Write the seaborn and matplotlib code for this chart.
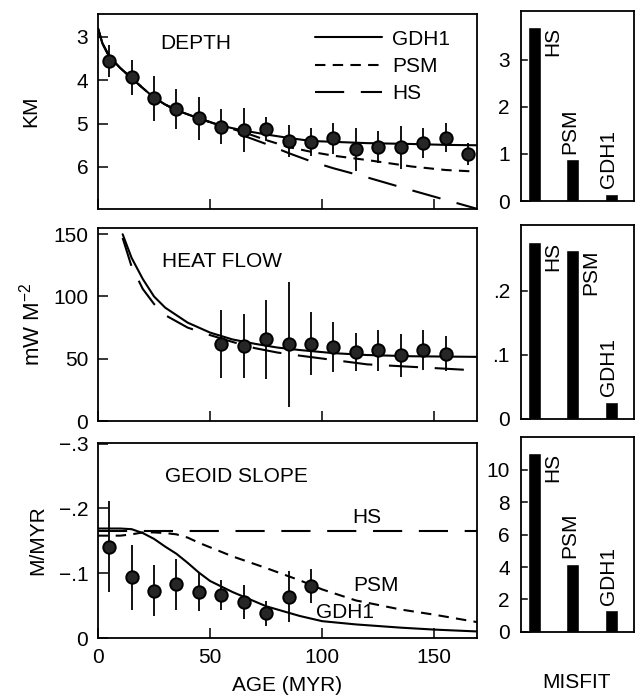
import matplotlib

matplotlib.use("Agg")
import matplotlib.pyplot as plt
from matplotlib.lines import Line2D
import seaborn as sns

# --- observed depth (km), binned by age ---
depth_age = [5, 15, 25, 35, 45, 55, 65, 75, 85, 95, 105, 115, 125, 135, 145, 155, 165]
depth_obs = [3.55, 3.93, 4.42, 4.66, 4.88, 5.07, 5.15, 5.12, 5.40, 5.42, 5.34,
             5.59, 5.53, 5.55, 5.44, 5.32, 5.70]
depth_err = [0.37, 0.40, 0.52, 0.46, 0.50, 0.40, 0.50, 0.27, 0.36, 0.33, 0.36,
             0.50, 0.37, 0.50, 0.35, 0.33, 0.25]

# model depth curves
depth_model_age = [0, 2, 5, 10, 15, 20, 25, 30, 35, 45, 55, 65, 75, 85, 95, 105,
                   120, 140, 155, 170]
depth_gdh1 = [2.8, 3.15, 3.45, 3.72, 3.95, 4.18, 4.4, 4.56, 4.69, 4.88, 5.05, 5.16,
              5.25, 5.33, 5.4, 5.42, 5.45, 5.47, 5.49, 5.5]
depth_psm = [2.8, 3.15, 3.45, 3.72, 3.95, 4.18, 4.4, 4.56, 4.69, 4.88, 5.05, 5.2,
             5.38, 5.54, 5.65, 5.74, 5.84, 5.99, 6.07, 6.11]
depth_hs = [2.8, 3.15, 3.45, 3.72, 3.95, 4.18, 4.4, 4.56, 4.69, 4.88, 5.05, 5.28,
            5.47, 5.68, 5.87, 6.03, 6.24, 6.54, 6.76, 6.98]

# --- observed heat flow (mW m^-2) ---
heat_age = [55, 65, 75, 85, 95, 105, 115, 125, 135, 145, 155]
heat_obs = [62.0, 59.9, 65.5, 61.5, 62.0, 59.3, 55.3, 56.7, 52.7, 56.7, 54.0]
heat_err = [27.5, 25.7, 31.4, 50.0, 25.4, 20.0, 15.4, 16.7, 17.4, 16.0, 14.0]

heat_model_age = [11, 15, 20, 25, 30, 40, 50, 60, 70, 80, 90, 105, 120, 140, 170]
heat_gdh1 = [150, 131, 114, 100, 91, 79, 71, 65.5, 62, 59, 57, 54.5, 53, 52, 51.5]
heat_hs = [147, 124, 106, 94, 85, 75, 69, 63.5, 58.5, 55, 52.5, 49, 45.5, 43.5, 40.5]

# --- observed geoid slope (m/Myr) ---
geoid_age = [5, 15, 25, 35, 45, 55, 65, 75, 85, 95]
geoid_obs = [-0.141, -0.094, -0.073, -0.083, -0.071, -0.066, -0.056, -0.038,
             -0.064, -0.080]
geoid_err = [0.07, 0.05, 0.039, 0.039, 0.029, 0.023, 0.026, 0.019, 0.039, 0.026]

geoid_model_age = [0, 10, 15, 20, 25, 30, 35, 40, 45, 50, 60, 75, 90, 100, 115,
                   135, 150, 170]
geoid_gdh1 = [-0.169, -0.169, -0.168, -0.162, -0.153, -0.141, -0.130, -0.116,
              -0.101, -0.088, -0.071, -0.049, -0.034, -0.026, -0.021, -0.016,
              -0.013, -0.010]
geoid_psm = [-0.158, -0.158, -0.160, -0.163, -0.163, -0.162, -0.160, -0.155,
             -0.147, -0.140, -0.126, -0.108, -0.089, -0.075, -0.058, -0.044,
             -0.036, -0.024]
geoid_hs_age = [0, 170]
geoid_hs = [-0.165, -0.165]

# --- misfit of each model ---
misfit_models = ["HS", "PSM", "GDH1"]
misfit_depth = [3.71, 0.89, 0.15]
misfit_heat = [0.277, 0.264, 0.027]
misfit_geoid = [11.04, 4.2, 1.33]

line_styles = {"GDH1": "-", "PSM": (0, (5, 3.5)), "HS": (0, (14, 8))}

sns.set_style("ticks")
plt.rcParams["font.family"] = ["Liberation Sans", "DejaVu Sans"]
plt.rcParams["mathtext.fontset"] = "custom"
plt.rcParams["mathtext.rm"] = "Liberation Sans"
plt.rcParams["mathtext.it"] = "Liberation Sans:italic"
plt.rcParams["axes.edgecolor"] = "black"
plt.rcParams["axes.linewidth"] = 1.3
plt.rcParams["xtick.color"] = "black"
plt.rcParams["ytick.color"] = "black"
plt.rcParams["text.color"] = "black"
plt.rcParams["axes.labelcolor"] = "black"

FS = 15


def draw_model(ax, age, values, model):
    sns.lineplot(x=age, y=values, ax=ax, color="black", lw=1.5,
                 linestyle=line_styles[model], legend=False, zorder=2)


def draw_obs(ax, age, obs, err):
    ax.errorbar(age, obs, yerr=err, fmt="none", ecolor="black", elinewidth=1.3,
                capsize=0, zorder=3)
    sns.scatterplot(x=age, y=obs, ax=ax, s=80, color="0.15", edgecolor="black",
                    linewidth=1.4, zorder=4, legend=False)


def style_left(ax, show_xlabels):
    ax.set_xlim(0, 169)
    ax.set_xticks([0, 50, 100, 150])
    if not show_xlabels:
        ax.set_xticklabels([])
    ax.tick_params(direction="in", length=7, width=1.1, labelsize=FS, pad=7,
                   top=False, right=False)
    for s in ax.spines.values():
        s.set_visible(True)


def draw_misfit(ax, values, top, ticks, ticklabels):
    sns.barplot(x=misfit_models, y=values, ax=ax, color="black", width=0.34,
                saturation=1)
    ax.set_xlim(-0.35, 2.6)
    ax.set_ylim(0, top)
    ax.set_xticks([])
    ax.set_yticks(ticks)
    ax.set_yticklabels(ticklabels)
    ax.tick_params(direction="in", length=7, width=1.1, labelsize=FS, pad=8,
                   right=False)
    for i, (name, v) in enumerate(zip(misfit_models, values)):
        if v > 0.6 * top:
            ax.text(i + 0.47, v, name, rotation=90, ha="center", va="top",
                    fontsize=FS)
        else:
            ax.annotate(name, (i - 0.08, v), xytext=(0, 4),
                        textcoords="offset points", rotation=90, ha="center",
                        va="bottom", fontsize=FS)


fig = plt.figure(figsize=(6.37, 6.96), dpi=100)
ax_d = fig.add_axes([0.1538, 0.6997, 0.595, 0.2802])
ax_q = fig.add_axes([0.1538, 0.3951, 0.595, 0.2773])
ax_g = fig.add_axes([0.1538, 0.0833, 0.595, 0.2802])
bx_d = fig.add_axes([0.8179, 0.7112, 0.178, 0.273])
bx_q = fig.add_axes([0.8179, 0.3980, 0.178, 0.2787])
bx_g = fig.add_axes([0.8179, 0.0920, 0.178, 0.2800])

# depth
draw_model(ax_d, depth_model_age, depth_hs, "HS")
draw_model(ax_d, depth_model_age, depth_psm, "PSM")
draw_model(ax_d, depth_model_age, depth_gdh1, "GDH1")
draw_obs(ax_d, depth_age, depth_obs, depth_err)
ax_d.set_ylim(6.97, 2.47)
ax_d.set_yticks([3, 4, 5, 6])
style_left(ax_d, False)
ax_d.set_ylabel("KM", fontsize=FS)
ax_d.yaxis.set_label_coords(-0.153, 0.5)
ax_d.text(0.164, 0.85, "DEPTH", transform=ax_d.transAxes, ha="left",
          va="center", fontsize=FS)
handles = [Line2D([], [], color="black", lw=1.5, linestyle=line_styles[m])
           for m in ["GDH1", "PSM", "HS"]]
ax_d.legend(handles, ["GDH1", "PSM", "HS"], loc="upper right",
            bbox_to_anchor=(0.93, 0.92), frameon=False, fontsize=FS,
            handlelength=3.2, handletextpad=0.5, labelspacing=0.4,
            borderpad=0, borderaxespad=0)

# heat flow
draw_model(ax_q, heat_model_age, heat_hs, "HS")
draw_model(ax_q, heat_model_age, heat_gdh1, "GDH1")
draw_obs(ax_q, heat_age, heat_obs, heat_err)
ax_q.set_ylim(0, 155)
ax_q.set_yticks([0, 50, 100, 150])
style_left(ax_q, False)
ax_q.set_ylabel(r"mW M$^{-2}$", fontsize=FS + 1)
ax_q.yaxis.set_label_coords(-0.14, 0.5)
ax_q.text(0.169, 0.824, "HEAT FLOW", transform=ax_q.transAxes, ha="left",
          va="center", fontsize=FS)

# geoid slope
draw_model(ax_g, geoid_hs_age, geoid_hs, "HS")
draw_model(ax_g, geoid_model_age, geoid_psm, "PSM")
draw_model(ax_g, geoid_model_age, geoid_gdh1, "GDH1")
draw_obs(ax_g, geoid_age, geoid_obs, geoid_err)
ax_g.set_ylim(0, -0.301)
ax_g.set_yticks([0, -0.1, -0.2, -0.3])
ax_g.set_yticklabels(["0", "\u2212.1", "\u2212.2", "\u2212.3"])
style_left(ax_g, True)
ax_g.set_ylabel("M/MYR", fontsize=FS)
ax_g.yaxis.set_label_coords(-0.135, 0.5)
ax_g.set_xlabel("AGE (MYR)", fontsize=FS, labelpad=7)
ax_g.text(0.177, 0.826, "GEOID SLOPE", transform=ax_g.transAxes, ha="left",
          va="center", fontsize=FS)
ax_g.text(120, -0.186, "HS", ha="center", va="center", fontsize=FS)
ax_g.text(124, -0.081, "PSM", ha="center", va="center", fontsize=FS)
ax_g.text(110, -0.040, "GDH1", ha="center", va="center", fontsize=FS)

# misfit bars
draw_misfit(bx_d, misfit_depth, 4.04, [0, 1, 2, 3], ["0", "1", "2", "3"])
draw_misfit(bx_q, misfit_heat, 0.303, [0, 0.1, 0.2], ["0", ".1", ".2"])
draw_misfit(bx_g, misfit_geoid, 12, [0, 2, 4, 6, 8, 10],
            ["0", "2", "4", "6", "8", "10"])
fig.text(577 / 637, 1 - 683 / 696, "MISFIT", ha="center", va="center",
         fontsize=FS)

fig.savefig("out.png", dpi=100)
